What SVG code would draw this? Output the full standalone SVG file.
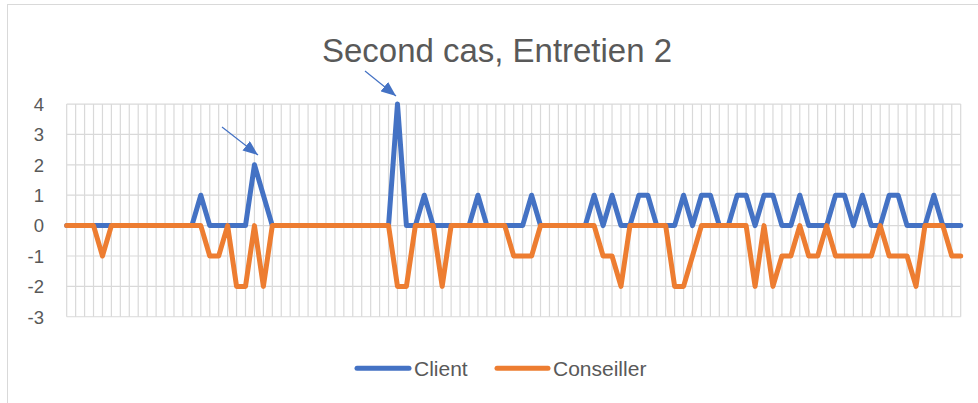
<svg xmlns="http://www.w3.org/2000/svg" width="978" height="403" viewBox="0 0 978 403">
<style>
.txt{font-family:"Liberation Sans",Arial,sans-serif;fill:#595959}
.ax{font-size:18.5px;text-anchor:end}
.grid{fill:none;stroke:#d9d9d9;stroke-width:1.2;vector-effect:non-scaling-stroke}
.ser{fill:none;stroke-width:5;stroke-linejoin:round;stroke-linecap:round;vector-effect:non-scaling-stroke}
.blue{stroke:#4472c4}
.orange{stroke:#ed7d31}
.ann{stroke:#4472c4;stroke-width:1.2;fill:none}
</style>
<defs>
<marker id="ah" markerUnits="userSpaceOnUse" markerWidth="15" markerHeight="12" refX="15" refY="6" orient="auto" viewBox="0 0 15 12">
<path d="M0 0L15 6L0 12Z" fill="#4472c4"/>
</marker>
</defs>
<rect x="7.5" y="4.5" width="990" height="420" fill="#fff" stroke="#d9d9d9" stroke-width="1"/>
<g id="title"><text class="txt" x="497" y="62" font-size="34" text-anchor="middle" textLength="350" lengthAdjust="spacingAndGlyphs">Second cas, Entretien 2</text></g>
<g id="y-axis">
<text class="txt ax" x="44" y="110.7">4</text>
<text class="txt ax" x="44" y="141.1">3</text>
<text class="txt ax" x="44" y="171.5">2</text>
<text class="txt ax" x="44" y="201.9">1</text>
<text class="txt ax" x="44" y="232.3">0</text>
<text class="txt ax" x="44" y="262.7">-1</text>
<text class="txt ax" x="44" y="293.1">-2</text>
<text class="txt ax" x="44" y="323.5">-3</text>
</g>
<g id="plot" transform="translate(66.7 225.6) scale(8.94 -30.39)">
<path id="vgrid" class="grid" d="M0-3V4M1-3V4M2-3V4M3-3V4M4-3V4M5-3V4M6-3V4M7-3V4M8-3V4M9-3V4M10-3V4M11-3V4M12-3V4M13-3V4M14-3V4M15-3V4M16-3V4M17-3V4M18-3V4M19-3V4M20-3V4M21-3V4M22-3V4M23-3V4M24-3V4M25-3V4M26-3V4M27-3V4M28-3V4M29-3V4M30-3V4M31-3V4M32-3V4M33-3V4M34-3V4M35-3V4M36-3V4M37-3V4M38-3V4M39-3V4M40-3V4M41-3V4M42-3V4M43-3V4M44-3V4M45-3V4M46-3V4M47-3V4M48-3V4M49-3V4M50-3V4M51-3V4M52-3V4M53-3V4M54-3V4M55-3V4M56-3V4M57-3V4M58-3V4M59-3V4M60-3V4M61-3V4M62-3V4M63-3V4M64-3V4M65-3V4M66-3V4M67-3V4M68-3V4M69-3V4M70-3V4M71-3V4M72-3V4M73-3V4M74-3V4M75-3V4M76-3V4M77-3V4M78-3V4M79-3V4M80-3V4M81-3V4M82-3V4M83-3V4M84-3V4M85-3V4M86-3V4M87-3V4M88-3V4M89-3V4M90-3V4M91-3V4M92-3V4M93-3V4M94-3V4M95-3V4M96-3V4M97-3V4M98-3V4M99-3V4M100-3V4"/>
<path id="hgrid" class="grid" d="M0 4H100M0 3H100M0 2H100M0 1H100M0 0H100M0-1H100M0-2H100M0-3H100"/>
<polyline id="client" class="ser blue" points="0,0 14,0 15,1 16,0 20,0 21,2 23,0 36,0 37,4 38,0 39,0 40,1 41,0 45,0 46,1 47,0 51,0 52,1 53,0 58,0 59,1 60,0 61,1 62,0 63,0 64,1 65,1 66,0 68,0 69,1 70,0 71,1 72,1 73,0 74,0 75,1 76,1 77,0 78,1 79,1 80,0 81,0 82,1 83,0 85,0 86,1 87,1 88,0 89,1 90,0 91,0 92,1 93,1 94,0 96,0 97,1 98,0 100,0"/>
<polyline id="conseiller" class="ser orange" points="0,0 3,0 4,-1 5,0 15,0 16,-1 17,-1 18,0 19,-2 20,-2 21,0 22,-2 23,0 36,0 37,-2 38,-2 39,0 41,0 42,-2 43,0 49,0 50,-1 52,-1 53,0 59,0 60,-1 61,-1 62,-2 63,0 67,0 68,-2 69,-2 71,0 76,0 77,-2 78,0 79,-2 80,-1 81,-1 82,0 83,-1 84,-1 85,0 86,-1 90,-1 91,0 92,-1 94,-1 95,-2 96,0 98,0 99,-1 100,-1"/>
</g>
<g id="connectors">
<line class="ann" x1="222" y1="127" x2="258" y2="155" marker-end="url(#ah)"/>
<line class="ann" x1="365" y1="71" x2="396" y2="96" marker-end="url(#ah)"/>
</g>
<g id="legend">
<line x1="357" y1="368.3" x2="409" y2="368.3" stroke="#4472c4" stroke-width="5" stroke-linecap="round"/>
<text class="txt" x="414" y="376" font-size="21">Client</text>
<line x1="497" y1="368.3" x2="548" y2="368.3" stroke="#ed7d31" stroke-width="5" stroke-linecap="round"/>
<text class="txt" x="553" y="376" font-size="21">Conseiller</text>
</g>
</svg>
